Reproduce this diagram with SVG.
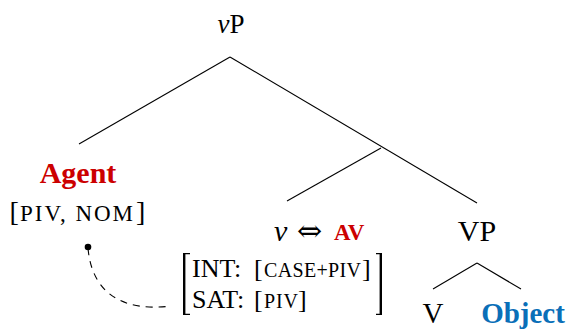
<svg xmlns="http://www.w3.org/2000/svg" width="566" height="330" viewBox="0 0 566 330">
<style>
text{font-family:"Liberation Serif","Times New Roman",serif;fill:#000}
.lab{font-size:30px}
.red{fill:#cc0000;font-weight:bold}
.blue{fill:#0a6fb8;font-weight:bold}
.sc{font-size:20px}
.edge{stroke:#000;stroke-width:1.1;fill:none}
.dash{stroke:#000;stroke-width:1.1;fill:none;stroke-dasharray:7 6}
</style>
<rect width="566" height="330" fill="#fff"/>
<g id="connectors">
<line class="edge" x1="230" y1="57" x2="79" y2="144"/>
<line class="edge" x1="230" y1="57" x2="477" y2="203"/>
<line class="edge" x1="381" y1="148" x2="287" y2="201"/>
<line class="edge" x1="477" y1="263" x2="433" y2="289"/>
<line class="edge" x1="477" y1="263" x2="521" y2="289"/>
<circle cx="88" cy="247" r="3.3" fill="#000"/>
<path class="dash" d="M88 248 C92 295 125 312 171 306"/>
</g>
<g id="node-vP">
<text x="231" y="33" text-anchor="middle" font-size="27"><tspan font-style="italic">ν</tspan>P</text>
</g>
<g id="node-agent">
<text class="red" x="78" y="183" text-anchor="middle" font-size="30">Agent</text>
<text x="9.5" y="221" font-size="28">[</text>
<text x="20" y="221" font-size="23" textLength="113" lengthAdjust="spacing">PIV, NOM</text>
<text x="136" y="221" font-size="28">]</text>
</g>
<g id="node-v">
<text x="274" y="241" font-size="30" font-style="italic">ν</text>
<text x="297" y="241" font-size="30" style="font-family:'DejaVu Serif',serif">⇔</text>
<text class="red" x="334" y="240" font-size="23">AV</text>
<path d="M183 253 H190 V254.2 H185.4 V313.8 H190 V315 H183 Z" fill="#000"/>
<path d="M382 253 H376 V254.2 H379.6 V313.8 H376 V315 H382 Z" fill="#000"/>
<text x="192" y="277" font-size="26">INT:</text>
<text x="254" y="277" font-size="26">[</text>
<text class="sc" x="264" y="277" textLength="97" lengthAdjust="spacing">CASE+PIV</text>
<text x="362" y="277" font-size="26">]</text>
<text x="192" y="308" font-size="26">SAT:</text>
<text x="254" y="308" font-size="26">[</text>
<text class="sc" x="264" y="308" textLength="34" lengthAdjust="spacing">PIV</text>
<text x="298" y="308" font-size="26">]</text>
</g>
<g id="node-VP">
<text class="lab" x="477" y="241" text-anchor="middle">VP</text>
</g>
<g id="node-V">
<text x="433" y="323" text-anchor="middle" font-size="29">V</text>
</g>
<g id="node-object">
<text class="blue" x="523" y="323" text-anchor="middle" font-size="29">Object</text>
</g>
</svg>
